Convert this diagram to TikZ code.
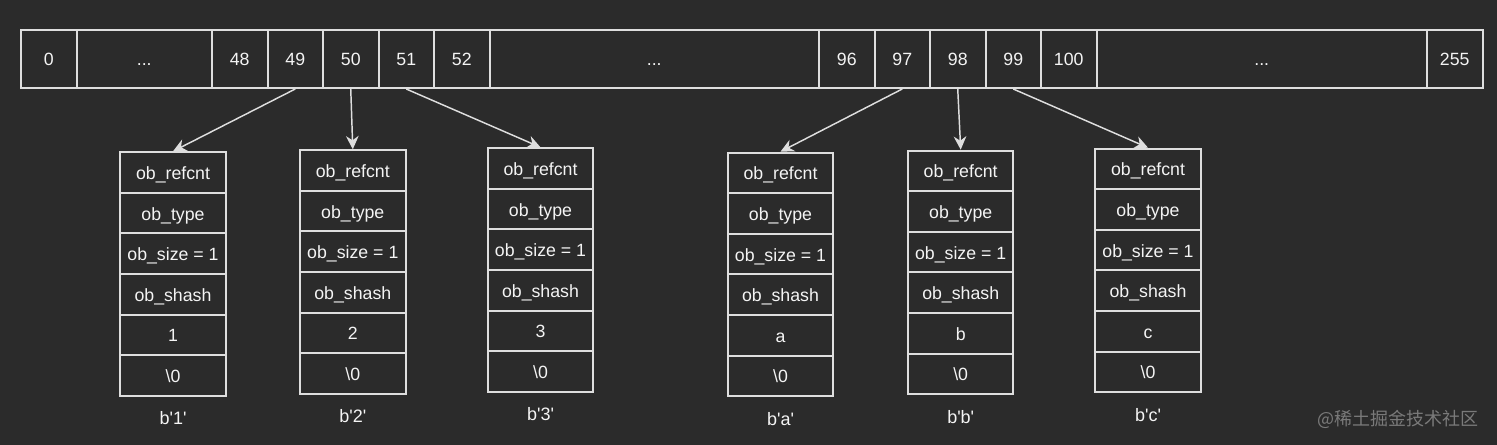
\documentclass[tikz,border=0pt]{standalone}
\usepackage{fontspec}
\setmainfont{Liberation Sans}
\newfontfamily\cjk{Noto Sans CJK SC}
\usetikzlibrary{arrows.meta}
\definecolor{bgc}{RGB}{43,43,43}
\definecolor{ln}{RGB}{222,222,222}
\definecolor{txt}{RGB}{244,244,244}
\definecolor{wm}{RGB}{122,122,122}
\newcommand{\gapdots}{...}

\begin{document}
\begin{tikzpicture}[x=0.75pt,y=-0.75pt,
  slot/.style={draw=ln,line width=1.5pt,text=txt,font=\fontsize{13.3}{16}\selectfont,inner sep=0pt,text height=10.5pt,text depth=0pt,minimum height=43.5pt},
  field/.style={draw=ln,line width=1.5pt,text=txt,font=\fontsize{13.3}{16}\selectfont,inner sep=0pt,text height=10.5pt,text depth=0pt,minimum width=79.1pt,minimum height=30.45pt},
  tag/.style={text=txt,font=\fontsize{13.5}{16}\selectfont,inner sep=0pt},
  ptr/.style={-{Stealth[length=10pt,width=9.5pt]},draw=ln,line width=1.1pt}]
  \fill[bgc] (0,0) rectangle (1497,445);
  % byte array 0..255
  \foreach \xl/\xr/\t/\n in {21/76.5/0/c0, 76.5/212/\gapdots/d1, 212/267.5/48/c48,
      267.5/323/49/c49, 323/378.5/50/c50, 378.5/434/51/c51, 434/489.5/52/c52,
      489.5/819/\gapdots/d2, 819/874.5/96/c96, 874.5/930/97/c97, 930/985.5/98/c98,
      985.5/1041/99/c99, 1041/1096.5/100/c100, 1096.5/1427/\gapdots/d3, 1427/1482.5/255/c255}
    \node[slot,minimum width={(\xr-\xl)*0.75pt}] (\n) at ({(\xl+\xr)/2},59) {\t};
  % cached bytes objects
  \foreach \m/\cx/\ty/\v in {1/173/152.3/1, 2/352.8/150.3/2, 3/540.5/148.3/3,
      4/780.5/152.7/a, 5/960.7/150.7/b, 6/1148/148.7/c} {
    \foreach \f [count=\i] in {ob\_refcnt, ob\_type, ob\_size = 1, ob\_shash, \v, \textbackslash 0}
      \node[field] (b\m r\i) at (\cx,{\ty+40.6*\i-20.3}) {\f};
    \node[tag] (l\m) at (\cx,{\ty+266}) {b\textquotesingle\v\textquotesingle};
  }
  \draw[ptr] (c49.south) -- (b1r1.north);
  \draw[ptr] (c50.south) -- (b2r1.north);
  \draw[ptr] (c51.south) -- (b3r1.north);
  \draw[ptr] (c97.south) -- (b4r1.north);
  \draw[ptr] (c98.south) -- (b5r1.north);
  \draw[ptr] (c99.south) -- (b6r1.north);
  \node[text=wm,font=\cjk\fontsize{13.5}{16}\selectfont,anchor=east,inner sep=0pt] (mark) at (1479,419) {@稀土掘金技术社区};
\end{tikzpicture}
\end{document}
